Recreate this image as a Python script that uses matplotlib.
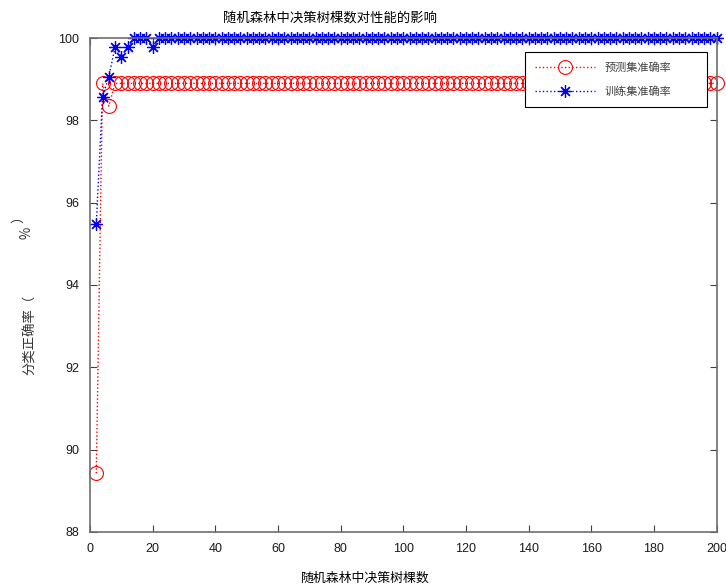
import matplotlib
matplotlib.use('Agg')
import matplotlib.pyplot as plt

plt.rcParams['font.family'] = ['Liberation Sans', 'Noto Sans CJK SC', 'DejaVu Sans']

# number of trees in the forest
n_trees = list(range(2, 201, 2))

# accuracy (%)
test_acc = [89.42, 98.90, 98.35] + [98.90] * 97
train_acc = [95.49, 98.58, 99.06, 99.79, 99.55, 99.79, 100.0, 100.0, 100.0, 99.79] + [100.0] * 90

title_txt = '随机森林中决策树棵数对性能的影响'
xlabel_txt = '随机森林中决策树棵数'
# the y label is broken into pieces in the original figure
ylabel_parts = ['分类正确率（', '%', '）']
legend_labels = ['预测集准确率', '训练集准确率']

cjk = ['Noto Sans CJK SC', 'DejaVu Sans']

fig = plt.figure(figsize=(7.26, 5.87), dpi=100)
ax = fig.add_axes([0.124, 0.094, 0.863, 0.841])

ax.plot(n_trees, test_acc, ':', color='red', marker='o', markersize=10,
        markerfacecolor='none', markeredgewidth=0.8, linewidth=1.0,
        label=legend_labels[0], clip_on=False)
ax.plot(n_trees, train_acc, ':', color='blue', marker=(8, 2, 0), markersize=9,
        markeredgewidth=0.9, linewidth=1.0, label=legend_labels[1], clip_on=False)

ax.set_xlim(0, 200)
ax.set_ylim(88, 100)
ax.set_xticks(range(0, 201, 20))
ax.set_yticks(range(88, 101, 2))

for s in ax.spines.values():
    s.set_color('#6e6e6e')
    s.set_linewidth(1.2)
ax.tick_params(direction='in', top=True, right=True, length=5,
               color='#404040', labelsize=9, labelcolor='#1a1a1a', pad=8)

fig.text(0.455, 0.968, title_txt, ha='center', va='center', fontsize=9.6, family=cjk)
fig.text(0.503, 0.015, xlabel_txt, ha='center', va='center', fontsize=9.3, family=cjk)
fig.text(0.041, 0.430, ylabel_parts[0], ha='center', va='center', rotation=90,
         fontsize=9.6, family=cjk, color='#333333')
fig.text(0.036, 0.603, ylabel_parts[1], ha='center', va='center', rotation=90,
         fontsize=9.6, family=cjk, color='#333333')
fig.text(0.025, 0.632, ylabel_parts[2], ha='center', va='center', rotation=90,
         fontsize=9.6, family=cjk, color='#333333')

leg = ax.legend(loc='upper left', bbox_to_anchor=(0.695, 0.862, 0.29, 0.11),
                mode='expand', borderaxespad=0, borderpad=0.9,
                handlelength=5.4, labelspacing=1.2,
                fancybox=False, framealpha=1, edgecolor='black',
                prop={'family': cjk, 'size': 8})
leg.get_frame().set_linewidth(0.8)
for t in leg.get_texts():
    t.set_color('#404040')

fig.savefig('out.png', dpi=100)
